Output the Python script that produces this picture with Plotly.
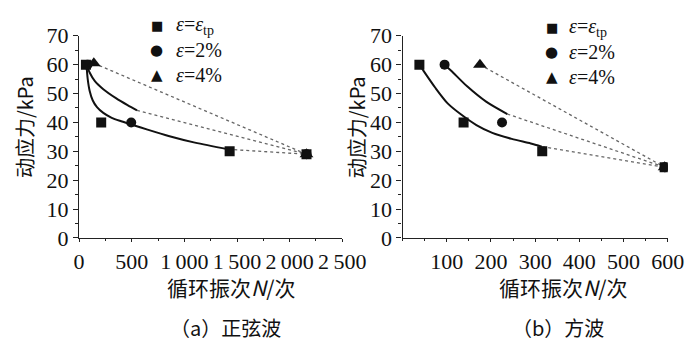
import plotly.graph_objects as go

# ---------- data: (a) sine wave ----------
a_sq_N = [65, 210, 1430, 2160]
a_sq_s = [60, 40, 30, 29]
a_ci_N = [80, 495, 2160]
a_ci_s = [60, 40, 29]
a_tr_N = [140, 2160]
a_tr_s = [60.5, 29]
# fitted curves
a_fit1_N = [70, 100, 150, 230, 350, 460, 550]
a_fit1_s = [60, 57.3, 54.3, 51.5, 48.4, 46.0, 44.2]
a_fit2_N = [70, 82, 100, 130, 170, 230, 310, 400, 495, 650, 850, 1100, 1417]
a_fit2_s = [60, 55, 51, 47.6, 45.3, 43.3, 41.6, 40.4, 39.3, 37.5, 35.3, 33.0, 30.7]
# dotted extrapolations
a_dot1_N = [140, 2160]; a_dot1_s = [60.5, 29]
a_dot2_N = [550, 2160]; a_dot2_s = [44.2, 29]
a_dot3_N = [1417, 2160]; a_dot3_s = [30.7, 29]

# ---------- data: (b) square wave ----------
b_sq_N = [38, 138, 316, 593]
b_sq_s = [60, 40, 30, 24.5]
b_ci_N = [95, 225, 593]
b_ci_s = [60, 40, 24.5]
b_tr_N = [175, 593]
b_tr_s = [60, 24.5]
b_fit1_N = [38, 45, 74, 102, 131, 167, 203, 247, 290, 315]
b_fit1_s = [60, 58.4, 52.0, 46.6, 42.9, 39.1, 36.4, 34.3, 32.7, 31.6]
b_fit2_N = [95, 110, 146, 189, 237]
b_fit2_s = [60, 57.9, 52.5, 47.2, 42.9]
b_dot1_N = [175, 593]; b_dot1_s = [60, 24.5]
b_dot2_N = [237, 593]; b_dot2_s = [42.9, 24.5]
b_dot3_N = [316, 593]; b_dot3_s = [31.6, 24.5]

a_xticks = [0, 500, 1000, 1500, 2000, 2500]
a_xlabels = ["0", "500", "1\u2009000", "1\u2009500", "2\u2009000", "2\u2009500"]
b_xticks = [100, 200, 300, 400, 500, 600]
y_ticks = [0, 10, 20, 30, 40, 50, 60, 70]

leg_names = ["<i>ε</i>=<i>ε</i><sub>tp</sub>", "<i>ε</i>=2%", "<i>ε</i>=4%"]
leg_syms = ["■", "●", "▲"]

SERIF = "Liberation Serif, Times New Roman, serif"
fig = go.Figure()

def add_panel(xa, ya, fits, dots, sq, ci, tr):
    for (nx, sy) in dots:
        fig.add_trace(go.Scatter(x=nx, y=sy, xaxis=xa, yaxis=ya, mode="lines",
                                 line=dict(color="#666666", width=1.3, dash="dot"),
                                 showlegend=False, hoverinfo="skip"))
    for (nx, sy) in fits:
        fig.add_trace(go.Scatter(x=nx, y=sy, xaxis=xa, yaxis=ya, mode="lines",
                                 line=dict(color="#111111", width=2, shape="spline", smoothing=0.8),
                                 showlegend=False, hoverinfo="skip"))
    syms = ["square", "circle", "triangle-up"]
    sizes = [10, 10, 12]
    for (nx, sy), sym, sz, nm in zip([sq, ci, tr], syms, sizes, leg_names):
        fig.add_trace(go.Scatter(x=nx, y=sy, xaxis=xa, yaxis=ya, mode="markers",
                                 marker=dict(symbol=sym, size=sz, color="#111111"),
                                 name=nm, showlegend=False))

add_panel("x", "y",
          [(a_fit1_N, a_fit1_s), (a_fit2_N, a_fit2_s)],
          [(a_dot1_N, a_dot1_s), (a_dot2_N, a_dot2_s), (a_dot3_N, a_dot3_s)],
          (a_sq_N, a_sq_s), (a_ci_N, a_ci_s), (a_tr_N, a_tr_s))
add_panel("x2", "y2",
          [(b_fit1_N, b_fit1_s), (b_fit2_N, b_fit2_s)],
          [(b_dot1_N, b_dot1_s), (b_dot2_N, b_dot2_s), (b_dot3_N, b_dot3_s)],
          (b_sq_N, b_sq_s), (b_ci_N, b_ci_s), (b_tr_N, b_tr_s))

ax_common = dict(showline=True, linecolor="#222222", linewidth=1.3, showgrid=False,
                 zeroline=False, ticks="outside", tickcolor="#222222",
                 tickfont=dict(family=SERIF, size=22, color="#111111"))

y0, y1 = (345 - 235) / 345, (345 - 17) / 345
fig.update_layout(
    width=700, height=345, margin=dict(l=0, r=0, t=0, b=0),
    paper_bgcolor="white", plot_bgcolor="white", showlegend=False,
    xaxis=dict(domain=[68 / 700, 343 / 700], range=[0, 2500], tickvals=a_xticks,
               ticktext=a_xlabels, ticklen=3,
               minor=dict(ticks="outside", ticklen=2, dtick=250, tickcolor="#222222"),
               anchor="y", **ax_common),
    yaxis=dict(domain=[y0, y1], range=[0, 70], tickvals=y_ticks, ticklen=5,
               ticksuffix="\u2009",
               minor=dict(ticks="outside", ticklen=3, dtick=5, tickcolor="#222222"),
               anchor="x", **ax_common),
    xaxis2=dict(domain=[406 / 700, 683 / 700], range=[0, 600], tickvals=b_xticks,
                ticklen=3,
                minor=dict(ticks="outside", ticklen=2, dtick=50, tickcolor="#222222"),
                anchor="y2", **ax_common),
    yaxis2=dict(domain=[y0, y1], range=[0, 70], tickvals=y_ticks, ticklen=5,
                ticksuffix="\u2009",
                minor=dict(ticks="outside", ticklen=3, dtick=5, tickcolor="#222222"),
                anchor="x2", **ax_common),
)

def px(x, y):
    return x / 700, (345 - y) / 345

# legend keys and texts (as text)
for sx, tx, rows in [(149, 167, [6, 32, 59]), (562, 578, [8, 35, 61])]:
    for sym, nm, ry, ssz in zip(leg_syms, leg_names, rows, [13, 15, 15]):
        xs, ys = px(sx, ry)
        fig.add_annotation(xref="paper", yref="paper", x=xs, y=ys, text=sym, showarrow=False,
                           xanchor="center", yanchor="middle",
                           font=dict(family="DejaVu Sans", size=ssz, color="#111111"))
        xt, yt = px(tx, ry)
        fig.add_annotation(xref="paper", yref="paper", x=xt, y=yt, text=nm, showarrow=False,
                           xanchor="left", yanchor="middle",
                           font=dict(family=SERIF, size=20, color="#111111"))

CJK = "Noto Sans CJK SC"
ann = [
    dict(text="动应力/kPa", x=11 / 700, y=(345 - 116) / 345, textangle=-90, size=20),
    dict(text="动应力/kPa", x=358 / 700, y=(345 - 116) / 345, textangle=-90, size=20),
    dict(text="循环振次<i>N</i>/次", x=227 / 700, y=(345 - 288) / 345, size=21),
    dict(text="循环振次<i>N</i>/次", x=574 / 700, y=(345 - 288) / 345, size=21),
    dict(text="（a）正弦波", x=221 / 700, y=(345 - 331) / 345, size=20),
    dict(text="（b）方波", x=568 / 700, y=(345 - 331) / 345, size=20),
]
for a in ann:
    sz = a.pop("size")
    fig.add_annotation(xref="paper", yref="paper", showarrow=False,
                       xanchor="center", yanchor="middle",
                       font=dict(family=CJK, size=sz, color="#111111"), **a)

fig.write_html("out.html")
